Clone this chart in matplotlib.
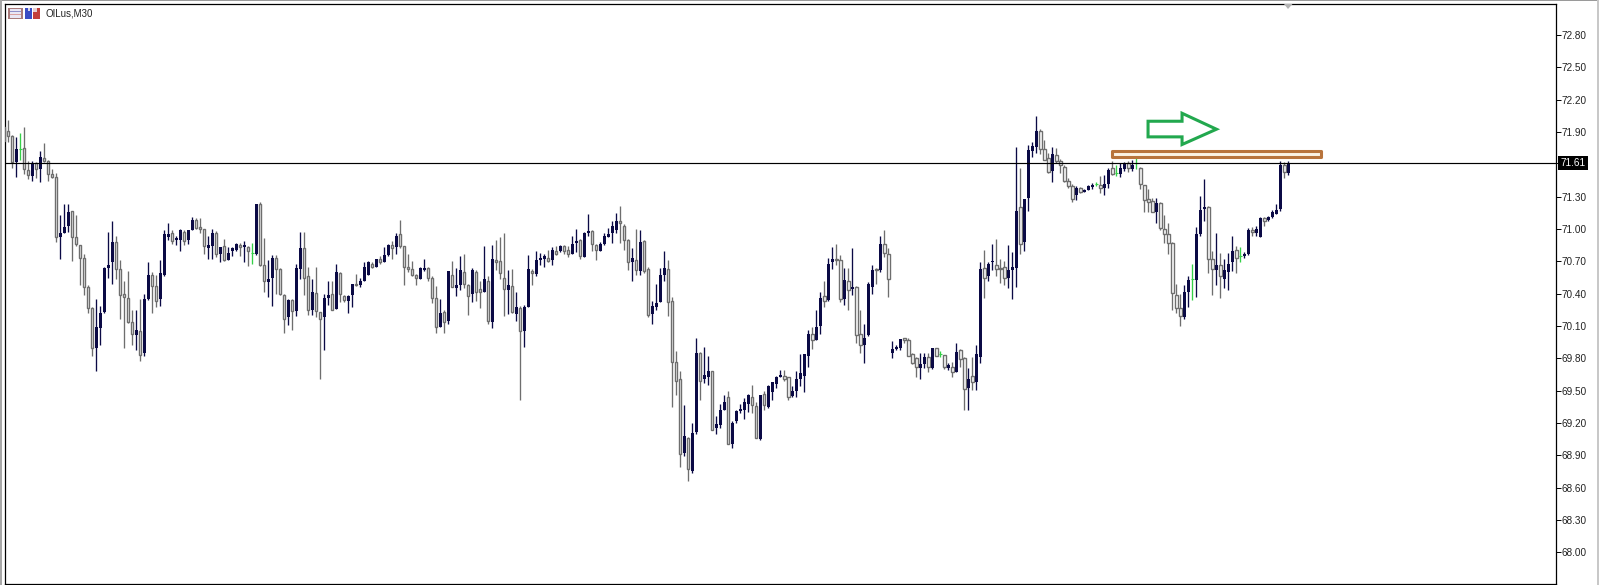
#import section
import matplotlib
matplotlib.use("Agg")
import matplotlib.pyplot as plt
from matplotlib.patches import Rectangle, Polygon
import numpy as np

# OILus M30 candles
opens = [
71.95,71.91,71.86,71.62,71.74,71.75,71.55,71.49,71.61,71.56,
71.66,71.63,71.51,71.48,70.93,70.96,71.03,71.17,70.93,70.85,
70.73,70.46,70.27,69.90,70.08,70.23,70.64,70.69,70.88,70.63,
70.40,70.36,70.14,70.02,70.05,69.85,70.35,70.57,70.47,70.35,
70.57,70.93,70.96,70.90,70.90,70.97,70.90,70.99,71.08,71.02,
71.00,70.82,70.84,70.96,70.77,70.84,70.71,70.80,70.81,70.85,
70.83,70.83,70.78,70.77,71.23,70.67,70.51,70.55,70.73,70.63,
70.39,70.18,70.34,70.24,70.63,70.82,70.56,70.25,70.41,70.23,
70.18,70.36,70.40,70.26,70.59,70.38,70.33,70.39,70.49,70.48,
70.52,70.57,70.68,70.65,70.72,70.69,70.76,70.85,70.83,70.95,
70.84,70.65,70.63,70.57,70.54,70.62,70.64,70.55,70.36,70.09,
70.23,70.15,70.57,70.45,70.48,70.60,70.48,70.40,70.60,70.44,
70.42,70.52,70.14,70.71,70.70,70.55,70.43,70.47,70.21,70.27,
70.05,70.28,70.61,70.58,70.71,70.72,70.73,70.71,70.80,70.80,
70.84,70.81,70.77,70.87,70.90,70.74,70.96,70.98,70.85,70.80,
70.86,70.93,70.96,70.99,71.07,71.03,70.90,70.69,70.71,70.61,
70.89,70.63,70.21,70.28,70.32,70.57,70.63,70.33,69.77,69.61,
68.92,69.06,68.76,69.12,69.85,69.61,69.63,69.68,69.15,69.18,
69.32,69.44,69.01,69.22,69.31,69.32,69.38,69.44,69.36,69.05,
69.47,69.35,69.49,69.56,69.63,69.64,69.63,69.45,69.50,69.61,
69.64,69.82,70.03,69.97,70.10,70.38,70.34,70.69,70.72,70.71,
70.35,70.52,70.44,70.46,70.03,69.92,70.02,70.46,70.63,70.62,
70.86,70.77,69.85,69.89,69.90,69.99,69.97,69.84,69.80,69.71,
69.75,69.81,69.71,69.90,69.84,69.83,69.71,69.72,69.67,69.88,
69.80,69.53,69.64,69.58,69.81,70.64,70.56,70.69,70.67,70.64,
70.65,70.55,70.62,70.64,71.20,70.88,71.29,71.72,71.76,71.91,
71.74,71.66,71.54,71.69,71.63,71.58,71.45,71.40,71.32,71.38,
71.34,71.36,71.39,71.42,71.41,71.38,71.42,71.57,71.52,71.51,
71.56,71.61,71.56,71.61,71.57,71.41,71.28,71.26,71.16,71.24,
71.00,70.95,70.87,70.39,70.27,70.18,70.42,70.54,70.53,70.95,
71.19,71.20,70.72,70.62,70.67,70.54,70.60,70.69,70.81,70.75,
70.75,70.77,70.99,70.96,70.93,71.10,71.08,71.11,71.14,71.19,
71.59,71.52]
closes = [
71.82,71.86,71.62,71.74,71.74,71.56,71.50,71.61,71.56,71.67,
71.63,71.51,71.48,70.93,70.96,71.02,71.16,70.93,70.86,70.73,
70.46,70.27,69.90,70.09,70.22,70.64,70.67,70.88,70.63,70.39,
70.37,70.14,70.03,70.06,69.83,70.35,70.57,70.47,70.33,70.59,
70.95,70.95,70.89,70.92,70.99,70.89,70.99,71.08,71.01,71.00,
70.84,70.85,70.96,70.77,70.83,70.71,70.78,70.82,70.86,70.83,
70.85,70.80,70.78,71.23,70.67,70.52,70.54,70.73,70.63,70.40,
70.17,70.34,70.24,70.64,70.82,70.55,70.25,70.42,70.24,70.17,
70.36,70.39,70.25,70.60,70.40,70.34,70.38,70.49,70.48,70.52,
70.65,70.69,70.65,70.72,70.69,70.76,70.85,70.82,70.94,70.84,
70.65,70.63,70.57,70.55,70.64,70.64,70.55,70.36,70.09,70.22,
70.14,70.61,70.46,70.48,70.62,70.49,70.38,70.62,70.42,70.42,
70.54,70.15,70.72,70.69,70.59,70.44,70.48,70.23,70.28,70.05,
70.28,70.63,70.59,70.71,70.73,70.75,70.70,70.81,70.77,70.84,
70.80,70.77,70.86,70.89,70.75,70.96,70.98,70.86,70.81,70.86,
70.94,70.95,71.03,71.07,71.06,70.90,70.69,70.73,70.62,70.88,
70.61,70.20,70.29,70.31,70.57,70.64,70.32,69.77,69.59,68.91,
69.08,68.77,69.11,69.85,69.59,69.65,69.68,69.14,69.19,69.32,
69.40,69.01,69.20,69.31,69.33,69.40,69.46,69.37,69.06,69.46,
69.37,69.54,69.58,69.63,69.65,69.61,69.44,69.50,69.61,69.66,
69.84,70.03,69.97,70.09,70.36,70.33,70.68,70.72,70.71,70.35,
70.53,70.43,70.46,70.02,69.92,69.99,70.49,70.62,70.62,70.86,
70.78,70.54,69.89,69.91,69.98,69.97,69.82,69.76,69.72,69.75,
69.81,69.72,69.90,69.82,69.84,69.72,69.74,69.67,69.86,69.79,
69.52,69.61,69.58,69.84,70.63,70.55,70.68,70.70,70.63,70.63,
70.55,70.62,70.65,71.17,70.86,71.28,71.73,71.77,71.91,71.74,
71.64,71.53,71.70,71.63,71.59,71.45,71.40,71.28,71.38,71.34,
71.36,71.40,71.41,71.42,71.38,71.42,71.55,71.51,71.52,71.57,
71.61,71.57,71.59,71.61,71.42,71.27,71.25,71.16,71.24,71.01,
70.95,70.87,70.41,70.27,70.19,70.42,70.53,70.54,70.95,71.18,
71.20,70.72,70.63,70.67,70.56,70.62,70.68,70.80,70.73,70.75,
70.77,70.99,70.97,71.00,71.10,71.07,71.11,71.16,71.18,71.59,
71.53,71.61]
highs = [
71.99,72.01,71.87,71.85,71.89,71.95,71.63,71.63,71.62,71.72,
71.80,71.64,71.56,71.52,71.13,71.23,71.23,71.17,71.13,70.85,
70.77,70.48,70.28,70.35,70.29,70.65,70.97,71.07,70.94,70.71,
70.52,70.61,70.25,70.25,70.35,70.40,70.69,70.60,70.57,70.71,
70.99,71.06,70.99,70.94,71.00,70.99,70.99,71.11,71.10,71.10,
71.00,70.94,71.00,70.98,70.83,70.91,70.83,70.83,70.87,70.87,
70.89,70.84,70.87,71.23,71.25,70.92,70.71,70.76,70.76,70.64,
70.40,70.35,70.35,70.68,70.97,70.97,70.65,70.54,70.65,70.23,
70.40,70.52,70.52,70.68,70.60,70.39,70.39,70.49,70.58,70.55,
70.69,70.70,70.69,70.72,70.75,70.83,70.86,70.89,70.96,71.08,
70.84,70.77,70.70,70.58,70.65,70.72,70.65,70.56,70.47,70.35,
70.25,70.61,70.70,70.64,70.75,70.77,70.49,70.64,70.62,70.52,
70.84,70.56,70.85,70.90,70.93,70.96,70.62,70.63,70.42,70.29,
70.30,70.76,70.63,70.80,70.78,70.77,70.81,70.83,70.84,70.85,
70.85,70.84,70.94,71.00,70.91,70.97,71.14,70.99,70.86,70.88,
70.96,71.01,71.07,71.15,71.21,71.05,70.91,70.82,71.00,70.99,
70.90,70.65,70.33,70.49,70.64,70.80,70.71,70.37,69.87,69.68,
69.37,69.07,69.20,69.99,69.86,69.91,69.82,69.68,69.27,69.38,
69.46,69.50,69.22,69.32,69.38,69.43,69.47,69.55,69.40,69.46,
69.50,69.55,69.58,69.64,69.69,69.69,69.63,69.54,69.68,69.84,
69.84,70.06,70.09,70.25,70.42,70.52,70.73,70.83,70.86,70.76,
70.64,70.64,70.82,70.47,70.25,70.12,70.51,70.67,70.64,70.94,
70.99,70.82,69.96,69.92,69.98,69.99,69.99,69.85,69.81,69.85,
69.85,69.85,69.90,69.90,69.87,69.83,69.76,69.77,69.94,69.89,
69.81,69.71,69.81,69.92,70.69,70.81,70.69,70.86,70.91,70.72,
70.70,70.85,70.79,71.76,71.57,71.28,71.78,71.81,72.05,71.93,
71.83,71.71,71.76,71.75,71.65,71.59,71.47,71.42,71.40,71.39,
71.37,71.41,71.43,71.44,71.49,71.50,71.57,71.63,71.59,71.61,
71.62,71.63,71.64,71.68,71.58,71.41,71.37,71.29,71.29,71.25,
71.13,71.06,70.88,70.49,70.40,70.48,70.56,70.68,71.02,71.31,
71.46,71.21,70.80,70.96,70.78,70.72,70.78,70.94,70.84,70.83,
70.79,71.01,71.02,71.03,71.11,71.11,71.12,71.18,71.23,71.63,
71.62,71.63]
lows = [
71.76,71.81,71.57,71.48,71.64,71.51,71.46,71.45,71.47,71.44,
71.62,71.45,71.47,70.88,70.72,70.96,70.97,70.70,70.84,70.48,
70.39,70.22,69.82,69.68,69.92,70.22,70.55,70.49,70.54,70.17,
69.90,70.13,69.92,69.88,69.78,69.82,70.34,70.22,70.28,70.29,
70.56,70.90,70.86,70.85,70.80,70.85,70.86,70.99,71.00,70.96,
70.77,70.72,70.72,70.74,70.69,70.70,70.71,70.75,70.80,70.75,
70.69,70.66,70.68,70.76,70.66,70.42,70.37,70.29,70.40,70.39,
70.04,70.11,70.06,70.19,70.54,70.39,70.20,70.20,70.18,69.61,
69.88,70.30,70.25,70.26,70.32,70.32,70.22,70.28,70.47,70.46,
70.52,70.57,70.64,70.65,70.68,70.69,70.75,70.72,70.77,70.82,
70.48,70.60,70.56,70.48,70.54,70.61,70.52,70.31,70.04,70.09,
70.04,70.12,70.46,70.38,70.43,70.45,70.20,70.32,70.33,70.27,
70.42,70.12,70.08,70.62,70.54,70.19,70.21,70.22,70.15,69.41,
69.91,70.28,70.48,70.56,70.67,70.65,70.69,70.67,70.76,70.79,
70.77,70.74,70.77,70.79,70.72,70.74,70.94,70.80,70.71,70.80,
70.85,70.93,70.87,70.96,70.87,70.81,70.62,70.52,70.57,70.57,
70.59,70.18,70.12,70.25,70.32,70.52,70.19,69.35,69.46,68.79,
68.89,68.66,68.74,69.10,69.41,69.57,69.55,69.14,69.10,69.15,
69.32,69.01,68.97,69.20,69.29,69.24,69.30,69.29,69.06,69.04,
69.32,69.34,69.41,69.53,69.63,69.59,69.41,69.44,69.44,69.54,
69.49,69.72,69.89,69.97,70.03,70.28,70.33,70.63,70.67,70.32,
70.30,70.25,70.39,69.94,69.85,69.76,70.01,70.40,70.49,70.60,
70.74,70.37,69.80,69.88,69.88,69.94,69.82,69.75,69.63,69.61,
69.71,69.67,69.70,69.82,69.81,69.70,69.69,69.63,69.67,69.72,
69.32,69.32,69.51,69.51,69.76,70.36,70.52,70.62,70.56,70.50,
70.48,70.45,70.35,70.46,70.77,70.80,71.17,71.67,71.71,71.70,
71.64,71.52,71.44,71.61,71.52,71.44,71.38,71.25,71.27,71.33,
71.34,71.36,71.37,71.40,71.33,71.32,71.38,71.50,71.49,71.48,
71.54,71.53,71.54,71.56,71.37,71.16,71.16,71.16,71.06,70.99,
70.87,70.77,70.25,70.22,70.10,70.17,70.28,70.34,70.37,70.94,
71.07,70.59,70.39,70.48,70.36,70.45,70.43,70.61,70.59,70.69,
70.73,70.76,70.94,70.94,70.93,71.03,71.07,71.10,71.14,71.17,
71.47,71.50]
# bars drawn as a flat green cross
doji_bars = [4, 62, 234, 273, 278, 283, 297, 309]

last_price = 71.61
price_ticks = [68.00, 68.30, 68.60, 68.90, 69.20, 69.50, 69.80, 70.10, 70.40, 70.70,
               71.00, 71.30, 71.90, 72.20, 72.50, 72.80]
zone_x = [276.9, 329.2]
zone_y = [71.672, 71.722]
arrow_x = [285.9, 294.4, 294.4, 303.0, 294.4, 294.4, 285.9]
arrow_y = [72.00, 72.00, 72.074, 71.926, 71.784, 71.855, 71.855]

W, H = 1599, 585
NAVY = "#0b0a45"
GRAY = "#6e6e6e"
GREEN = "#35d048"
plt.rcParams['font.family'] = ['Liberation Sans', 'DejaVu Sans']

fig = plt.figure(figsize=(W / 100, H / 100), dpi=100, facecolor="white")
left, right, top, bottom = 4.5, 1555.5, 3.5, 584.0
ax = fig.add_axes([left / W, 1 - bottom / H, (right - left) / W, (bottom - top) / H])

def fig_box(x0, y0, x1, y1, **kw):
    # box given in picture pixels, for the window frame and the header icons
    fig.add_artist(Rectangle((x0 / W, 1 - y1 / H), (x1 - x0) / W, (y1 - y0) / H,
                             transform=fig.transFigure, lw=0, **kw))

# window frame
fig_box(0, 0, W, 1.3, color="#9a9a9a")
fig_box(0, 0, 2.3, H, color="#a8a8a8")
fig_box(W - 2, 0, W, H, color="#c8c8c8")

o = np.array(opens)
c = np.array(closes)
hi = np.array(highs)
lo = np.array(lows)
x = np.arange(len(o))
is_doji = np.isin(x, doji_bars)
up = (c >= o) & ~is_doji
down = (c < o) & ~is_doji

ax.vlines(x[down], lo[down], hi[down], color=GRAY, lw=0.95, zorder=2)
ax.bar(x[down], (o - c)[down], bottom=c[down], width=0.55, facecolor="white",
       edgecolor=GRAY, lw=1.0, zorder=3)
ax.vlines(x[up], lo[up], hi[up], color=NAVY, lw=0.95, zorder=2)
ax.bar(x[up], np.maximum((c - o)[up], 0.012), bottom=o[up], width=0.78, color=NAVY, lw=0, zorder=3)
ax.vlines(x[is_doji], lo[is_doji], hi[is_doji], color=GREEN, lw=0.95, zorder=3)
ax.hlines(c[is_doji], x[is_doji] - 0.4, x[is_doji] + 0.4, color=GREEN, lw=0.8, zorder=3)

ax.axhline(last_price, color="black", lw=0.85, zorder=4)

# hand drawn objects
ax.add_patch(Rectangle((zone_x[0], zone_y[0]), zone_x[1] - zone_x[0], zone_y[1] - zone_y[0],
                       facecolor="#fbf3e4", edgecolor="#b8743c", lw=2.2, joinstyle="round", zorder=5))
ax.add_patch(Polygon(np.column_stack([arrow_x, arrow_y]), closed=True, fill=False,
                     edgecolor="#22a84e", lw=2.2, joinstyle="miter", zorder=5))

ax.set_xlim(0.05, (right - 4.5) / 4)
ax.set_ylim(72.8 - (bottom - 35.0) / 107.8, 72.8 + (35.0 - top) / 107.8)
ax.set_xticks([])
ax.yaxis.tick_right()
ax.set_yticks(price_ticks + [last_price])
ax.set_yticklabels(["%.2f" % p for p in price_ticks] + [""])
ax.tick_params(axis="y", length=3.6, width=0.7, pad=0.8, labelsize=7.2, labelcolor="#222222")
for s in ax.spines.values():
    s.set_linewidth(0.9)

ax.annotate("%.2f" % last_price, xy=(1, last_price), xycoords=("axes fraction", "data"),
            xytext=(3.4, 0), textcoords="offset points", va="center", ha="left", color="white",
            fontsize=7.2, bbox=dict(boxstyle="square,pad=0.22", fc="black", ec="black", lw=0))

# shift marker at the top of the chart
fig.add_artist(Polygon([(1284 / W, 1 - 4 / H), (1292.5 / W, 1 - 4 / H), (1288 / W, 1 - 9 / H)],
                       transform=fig.transFigure, color="#b4b4b4", lw=0))

# header: toolbar icons and symbol name
fig_box(8.3, 7.7, 22.6, 19.3, color="#a97a7a")
fig_box(9.5, 9, 21.4, 18, color="#e9e6f4")
fig_box(10, 10.5, 21, 12, color="#8f8fc9")
fig_box(10, 13.5, 21, 15, color="#d9a0a0")
fig_box(25, 8, 32.3, 18.8, color="#3a4cc4")
fig_box(27.5, 8, 30, 11, color="#d7d7ea")
fig_box(33.3, 8, 40.3, 18.8, color="#c23f3a")
fig_box(33.3, 8, 36.5, 11.5, color="#e6d0d0")
fig.text(45.5 / W, 1 - 13.7 / H, "OILus,M30", fontsize=7.0, color="#222222", va="center", ha="left")

plt.savefig("out.png", dpi=100)
